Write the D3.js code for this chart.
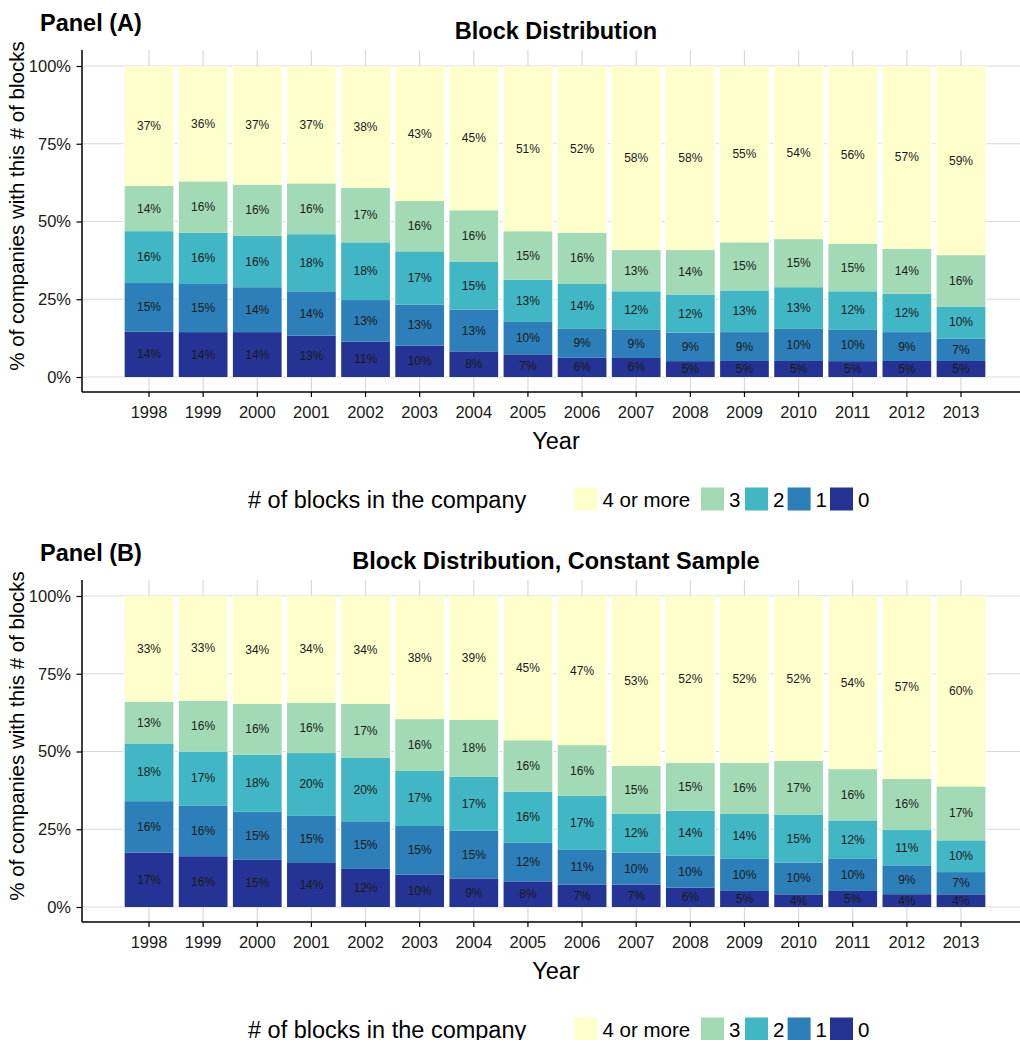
<!DOCTYPE html>
<html>
<head>
<meta charset="utf-8">
<script src="https://cdn.jsdelivr.net/npm/d3@7"></script>
<style>
  html, body { margin: 0; padding: 0; background: #fff; }
  svg { display: block; font-family: "Liberation Sans", Arial, Helvetica, sans-serif; }
</style>
</head>
<body>
<svg id="chart" width="1020" height="1040"></svg>
<script>
// Years on the x axis
const years = ["1998","1999","2000","2001","2002","2003","2004","2005",
               "2006","2007","2008","2009","2010","2011","2012","2013"];

// Block-count categories, bottom of the stack first
const blockLevels = ["0", "1", "2", "3", "4 or more"];
// Legend order
const legendLevels = ["4 or more", "3", "2", "1", "0"];
// YlGnBu palette, one colour per block level (same order as blockLevels)
const levelColors = ["#253494", "#2c7fb8", "#41b6c4", "#a1dab4", "#ffffcc"];

// Panel (A): share of companies (%) by number of blocks
const allBlocks0 = [14, 14, 14, 13, 11, 10, 8, 7, 6, 6, 5, 5, 5, 5, 5, 5];
const allBlocks1 = [15, 15, 14, 14, 13, 13, 13, 10, 9, 9, 9, 9, 10, 10, 9, 7];
const allBlocks2 = [16, 16, 16, 18, 18, 17, 15, 13, 14, 12, 12, 13, 13, 12, 12, 10];
const allBlocks3 = [14, 16, 16, 16, 17, 16, 16, 15, 16, 13, 14, 15, 15, 15, 14, 16];
const allBlocks4 = [37, 36, 37, 37, 38, 43, 45, 51, 52, 58, 58, 55, 54, 56, 57, 59];

// Panel (B): constant sample
const constBlocks0 = [17, 16, 15, 14, 12, 10, 9, 8, 7, 7, 6, 5, 4, 5, 4, 4];
const constBlocks1 = [16, 16, 15, 15, 15, 15, 15, 12, 11, 10, 10, 10, 10, 10, 9, 7];
const constBlocks2 = [18, 17, 18, 20, 20, 17, 17, 16, 17, 12, 14, 14, 15, 12, 11, 10];
const constBlocks3 = [13, 16, 16, 16, 17, 16, 18, 16, 16, 15, 15, 16, 17, 16, 16, 17];
const constBlocks4 = [33, 33, 34, 34, 34, 38, 39, 45, 47, 53, 52, 52, 52, 54, 57, 60];

const yTicks = [0, 0.25, 0.5, 0.75, 1];

function buildRows(series) {
  return years.map((yr, i) => {
    const row = { year: yr };
    blockLevels.forEach((lv, k) => { row[lv] = series[k][i]; });
    return row;
  });
}

const panels = [
  { label: "Panel (A)", title: "Block Distribution", top: 0,
    rows: buildRows([allBlocks0, allBlocks1, allBlocks2, allBlocks3, allBlocks4]) },
  { label: "Panel (B)", title: "Block Distribution, Constant Sample", top: 530,
    rows: buildRows([constBlocks0, constBlocks1, constBlocks2, constBlocks3, constBlocks4]) }
];

const svg = d3.select("#chart");
const color = d3.scaleOrdinal().domain(blockLevels).range(levelColors);

// Plot frame (relative to each panel's top)
const plotLeft = 82, plotRight = 1020, plotTop = 50, plotBottom = 392;
const step = 54.13;
const firstCenter = 149, lastCenter = 961;

const x = d3.scaleBand()
  .domain(years)
  .range([firstCenter - step / 2, lastCenter + step / 2])
  .paddingInner(0.1)
  .paddingOuter(0.05);

const gridColor = "#d9d9d9";
const textColor = "#1a1a1a";

panels.forEach(p => {
  const g = svg.append("g").attr("transform", `translate(0,${p.top})`);
  const y = d3.scaleLinear().domain([0, 1]).range([377, 66]);

  // Horizontal gridlines
  g.append("g").selectAll("line").data(yTicks).join("line")
    .attr("x1", plotLeft).attr("x2", plotRight)
    .attr("y1", d => y(d)).attr("y2", d => y(d))
    .attr("stroke", gridColor).attr("stroke-width", 1.2);

  // Vertical gridlines at each year
  g.append("g").selectAll("line").data(years).join("line")
    .attr("x1", d => x(d) + x.bandwidth() / 2).attr("x2", d => x(d) + x.bandwidth() / 2)
    .attr("y1", plotTop).attr("y2", plotBottom)
    .attr("stroke", gridColor).attr("stroke-width", 1.2);

  // Stacked shares, normalised to 100% per year
  const stack = d3.stack().keys(blockLevels).offset(d3.stackOffsetExpand);
  const layers = stack(p.rows);

  // Thin white rim around each bar
  g.append("g").selectAll("rect").data(p.rows).join("rect")
    .attr("x", d => x(d.year) - 1.2)
    .attr("width", x.bandwidth() + 2.4)
    .attr("y", y(1))
    .attr("height", y(0) - y(1))
    .attr("fill", "#fff");

  const layerG = g.append("g").selectAll("g").data(layers).join("g")
    .attr("fill", d => color(d.key));

  layerG.selectAll("rect").data(d => d).join("rect")
    .attr("x", d => x(d.data.year))
    .attr("width", x.bandwidth())
    .attr("y", d => y(d[1]))
    .attr("height", d => y(d[0]) - y(d[1]));

  // Value labels in the middle of each segment
  const labelG = g.append("g");
  layers.forEach(layer => {
    labelG.selectAll(null).data(layer).join("text")
      .attr("x", d => x(d.data.year) + x.bandwidth() / 2)
      .attr("y", d => y((d[0] + d[1]) / 2))
      .attr("text-anchor", "middle")
      .attr("dominant-baseline", "central")
      .attr("font-size", 12)
      .attr("fill", textColor)
      .text(d => d.data[layer.key] + "%");
  });

  // Y axis
  const yAxis = g.append("g")
    .attr("transform", `translate(${plotLeft},0)`)
    .call(d3.axisLeft(y).tickValues(yTicks).tickFormat(d3.format(".0%"))
      .tickSize(5.5).tickPadding(5.5));
  yAxis.select(".domain").attr("d", `M0,${plotTop}V${plotBottom}`)
    .attr("stroke", "#000").attr("stroke-width", 1.5);
  yAxis.selectAll(".tick line").attr("stroke", "#000").attr("stroke-width", 1.2);
  yAxis.selectAll(".tick text").attr("font-size", 16.5).attr("fill", textColor)
    .attr("font-family", null);

  // X axis
  const xAxis = g.append("g")
    .attr("transform", `translate(0,${plotBottom})`)
    .call(d3.axisBottom(x).tickSize(5).tickPadding(9.5));
  xAxis.select(".domain").attr("d", `M${plotLeft},0H${plotRight}`)
    .attr("stroke", "#000").attr("stroke-width", 1.5);
  xAxis.selectAll(".tick line").attr("stroke", "#000").attr("stroke-width", 1.2);
  xAxis.selectAll(".tick text").attr("font-size", 16.5).attr("fill", textColor)
    .attr("font-family", null);

  // Titles
  g.append("text").attr("x", 40).attr("y", 31)
    .attr("font-size", 23.5).attr("font-weight", "bold").attr("fill", "#000")
    .text(p.label);
  g.append("text").attr("x", 556).attr("y", 39)
    .attr("text-anchor", "middle")
    .attr("font-size", 23.5).attr("font-weight", "bold").attr("fill", "#000")
    .text(p.title);

  // Axis titles
  g.append("text").attr("x", 556).attr("y", 449)
    .attr("text-anchor", "middle").attr("font-size", 23.5).attr("fill", "#000")
    .text("Year");
  g.append("text")
    .attr("transform", "translate(24,206) rotate(-90)")
    .attr("text-anchor", "middle").attr("font-size", 20.5).attr("fill", "#000")
    .text("% of companies with this # of blocks");

  // Legend
  const legY = 499;
  g.append("text").attr("x", 248).attr("y", legY + 8.5)
    .attr("font-size", 23.5).attr("fill", "#000")
    .text("# of blocks in the company");
  const keyX = [574.5, 701, 745, 787.6, 830];
  const keySize = 23;
  const leg = g.append("g").selectAll("g").data(legendLevels).join("g")
    .attr("transform", (d, i) => `translate(${keyX[i]},${legY - keySize / 2})`);
  leg.append("rect").attr("width", keySize).attr("height", keySize)
    .attr("fill", d => color(d));
  leg.append("text").attr("x", keySize + 5).attr("y", keySize / 2 + 7.5)
    .attr("font-size", 20.5).attr("fill", "#000")
    .text(d => d);
});
</script>
</body>
</html>
